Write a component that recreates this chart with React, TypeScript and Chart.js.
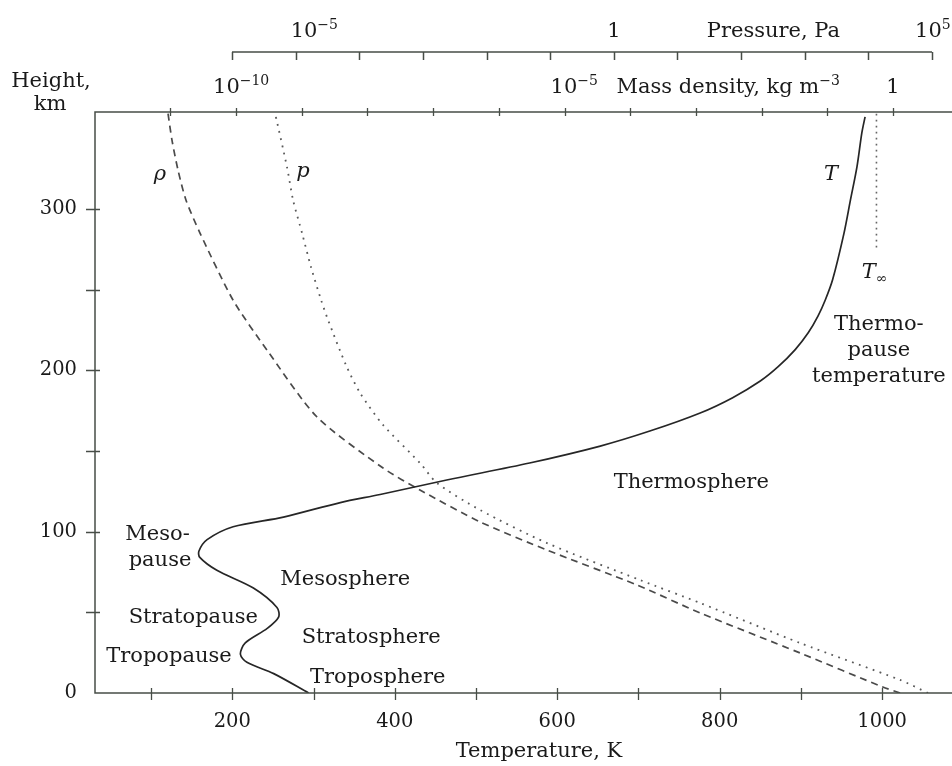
import React, { useEffect, useRef } from 'react';
import { Chart, registerables } from 'chart.js';

Chart.register(...registerables);

// ---------- data ----------
const temperatureK = [294, 251, 218, 210, 216, 243, 257, 255, 226, 181, 160, 159, 169, 201, 263, 333, 382, 464, 566, 653, 714, 776, 816, 850, 872, 893, 909, 921, 930, 939, 953, 961, 969, 975, 979];
const temperatureHeightKm = [0, 12, 19, 24, 31, 40, 47, 53, 65, 76, 84, 88, 95, 103, 109, 118, 123, 132, 142.5, 153, 162.3, 173.5, 183, 193.3, 202.2, 212.8, 223.2, 233.5, 243.5, 256, 284.8, 305.5, 326, 347, 357];

const thermopauseK = [993, 993];
const thermopauseHeightKm = [276, 360];

const densityKgM3 = [1.28, 0.70, 3.85e-2, 1.16e-3, 1.27e-4, 5.4e-6, 5.2e-7, 6.3e-8, 1.73e-8, 1.71e-9, 2.96e-10, 9.0e-11, 2.83e-11, 1.73e-11, 1.31e-11, 1.06e-11, 9.2e-12];
const densityHeightKm = [0, 3.7, 24.8, 49.6, 66.9, 88.6, 106, 125.8, 139.4, 171, 212.5, 243.5, 285, 305.5, 324, 342.6, 359.4];

const pressurePa = [8.65e4, 3.14e4, 841, 22.6, 2.58, 8.9e-2, 7.9e-3, 1.66e-3, 9.0e-4, 2.36e-4, 1.03e-4, 6.18e-5, 3.23e-5, 2.51e-5, 1.74e-5, 1.26e-5, 9.1e-6, 7.31e-6, 4.74e-6];
const pressureHeightKm = [0, 8.1, 31, 55.8, 70, 92.9, 113.4, 130.1, 142.5, 166.1, 185.9, 203.2, 231.1, 243.5, 264, 285, 305.5, 325.9, 359.4];

const tempTickMarks = [100, 200, 300, 400, 500, 600, 700, 800, 900, 1000];
const tempTickLabels = [200, 400, 600, 800, 1000];
const heightTickMarks = [50, 100, 150, 200, 250, 300];
const heightTickLabels = [0, 100, 200, 300];
const densityTickMarks = [1e-11, 1e-10, 1e-9, 1e-8, 1e-7, 1e-6, 1e-5, 1e-4, 1e-3, 1e-2, 1e-1, 1];
const pressureTickMarks = [1e-6, 1e-5, 1e-4, 1e-3, 1e-2, 1e-1, 1, 10, 100, 1e3, 1e4, 1e5];

// axis ranges
const tempMin = 31;
const tempMax = 1086;
const heightMin = 0;
const heightMax = 360;
const densityMin = 7.14e-13;
const densityMax = 7.9;
const pressureMin = 7.03e-9;
const pressureMax = 2.06e5;

// ---------- style ----------
const FAMILY = '"DejaVu Serif", "Liberation Serif", serif';
const BASE = 21;
const SMALL = 14;
const TICK = 19.5;
const INK = '#1a1a1a';
const AXIS = '#474d47';

type Part = { t: string; sup?: boolean; sub?: boolean; italic?: boolean };

function fontFor(p: Part) {
  return `${p.italic ? 'italic ' : ''}${p.sup || p.sub ? SMALL : BASE}px ${FAMILY}`;
}

function measureParts(ctx: CanvasRenderingContext2D, parts: Part[]) {
  return parts.map((p) => {
    ctx.font = fontFor(p);
    return ctx.measureText(p.t).width;
  });
}

function drawParts(ctx: CanvasRenderingContext2D, parts: Part[], x: number, y: number, align: 'left' | 'center' | 'right') {
  const widths = measureParts(ctx, parts);
  const total = widths.reduce((a, b) => a + b, 0);
  let cx = align === 'left' ? x : align === 'right' ? x - total : x - total / 2;
  ctx.textAlign = 'left';
  ctx.textBaseline = 'alphabetic';
  parts.forEach((p, i) => {
    ctx.font = fontFor(p);
    const dy = p.sup ? -8 : p.sub ? 5 : 0;
    ctx.fillText(p.t, cx, y + dy);
    cx += widths[i];
  });
}

const overlayPlugin = {
  id: 'overlay',
  afterDraw(chart: any) {
    const ctx: CanvasRenderingContext2D = chart.ctx;
    const { left, right, top, bottom } = chart.chartArea;
    const xs = chart.scales.x;
    const ys = chart.scales.y;
    const xr = chart.scales.xRho;
    const xp = chart.scales.xP;
    ctx.save();

    // frame
    ctx.strokeStyle = AXIS;
    ctx.lineWidth = 1.5;
    ctx.beginPath();
    ctx.moveTo(right, top);
    ctx.lineTo(left, top);
    ctx.lineTo(left, bottom);
    ctx.lineTo(right, bottom);
    ctx.stroke();

    // tick marks
    ctx.lineWidth = 1.3;
    ctx.beginPath();
    tempTickMarks.forEach((v) => {
      const px = Math.round(xs.getPixelForValue(v)) + 0.5;
      ctx.moveTo(px, bottom - 5);
      ctx.lineTo(px, bottom + 7);
    });
    heightTickMarks.forEach((v) => {
      const py = Math.round(ys.getPixelForValue(v)) + 0.5;
      ctx.moveTo(left - 9, py);
      ctx.lineTo(left + 5, py);
    });
    densityTickMarks.forEach((v) => {
      const px = Math.round(xr.getPixelForValue(v)) + 0.5;
      ctx.moveTo(px, top - 4);
      ctx.lineTo(px, top + 4);
    });
    ctx.stroke();

    // pressure axis
    const pl = xp.getPixelForValue(pressureTickMarks[0]);
    const pr = xp.getPixelForValue(pressureTickMarks[pressureTickMarks.length - 1]);
    const pAxisY = top - 60;
    ctx.lineWidth = 1.5;
    ctx.beginPath();
    ctx.moveTo(pl, pAxisY);
    ctx.lineTo(pr, pAxisY);
    pressureTickMarks.forEach((v) => {
      const px = Math.round(xp.getPixelForValue(v)) + 0.5;
      ctx.moveTo(px, pAxisY);
      ctx.lineTo(px, pAxisY + 8);
    });
    ctx.stroke();

    ctx.fillStyle = INK;
    // pressure labels
    const pBase = top - 75;
    const p5 = xp.getPixelForValue(1e-5);
    drawParts(ctx, [{ t: '10' }, { t: '\u22125', sup: true }], p5 - 5, pBase, 'left');
    drawParts(ctx, [{ t: '1' }], xp.getPixelForValue(1), pBase, 'center');
    drawParts(ctx, [{ t: 'Pressure, Pa' }], xp.getPixelForValue(1) + 93, pBase, 'left');
    drawParts(ctx, [{ t: '10' }, { t: '5', sup: true }], xp.getPixelForValue(1e5) - 17, pBase, 'left');

    // density labels
    const dBase = top - 19;
    drawParts(ctx, [{ t: '10' }, { t: '\u221210', sup: true }], xr.getPixelForValue(1e-10) - 23, dBase, 'left');
    drawParts(ctx, [{ t: '10' }, { t: '\u22125', sup: true }], xr.getPixelForValue(1e-5) - 14, dBase, 'left');
    drawParts(ctx, [{ t: 'Mass density, kg m' }, { t: '\u22123', sup: true }], xr.getPixelForValue(1e-5) + 52, dBase, 'left');
    drawParts(ctx, [{ t: '1' }], xr.getPixelForValue(1), dBase, 'center');

    // axis titles
    drawParts(ctx, [{ t: 'Height,' }], 51, top - 25, 'center');
    drawParts(ctx, [{ t: 'km' }], 50, top - 2, 'center');
    drawParts(ctx, [{ t: 'Temperature, K' }], 539, bottom + 64, 'center');

    // annotations anchored in data coordinates (T in K, height in km)
    const at = (T: number, h: number) => [xs.getPixelForValue(T), ys.getPixelForValue(h)];
    const put = (parts: Part[], T: number, h: number, align: 'left' | 'center' | 'right' = 'center') => {
      const [x, y] = at(T, h);
      drawParts(ctx, parts, x, y, align);
    };
    put([{ t: '\u03c1', italic: true }], 111, 318);
    put([{ t: 'p', italic: true }], 287, 320);
    put([{ t: 'T', italic: true }], 937, 318);
    put([{ t: 'T', italic: true }, { t: '\u221e', sub: true }], 975, 257, 'left');
    put([{ t: 'Thermo-' }], 996, 225);
    put([{ t: 'pause' }], 996, 209);
    put([{ t: 'temperature' }], 996, 193);
    put([{ t: 'Thermosphere' }], 765, 127);
    put([{ t: 'Meso-' }], 108, 95);
    put([{ t: 'pause' }], 111, 79);
    put([{ t: 'Mesosphere' }], 339, 67);
    put([{ t: 'Stratopause' }], 152, 43.4);
    put([{ t: 'Tropopause' }], 122, 19.2);
    put([{ t: 'Stratosphere' }], 371, 31);
    put([{ t: 'Troposphere' }], 379, 6.2);

    ctx.restore();
  },
};

function zipXY(xsArr: number[], ysArr: number[]) {
  return xsArr.map((x, i) => ({ x, y: ysArr[i] }));
}

export default function App() {
  const canvasRef = useRef<HTMLCanvasElement | null>(null);

  useEffect(() => {
    const canvas = canvasRef.current;
    if (!canvas) return;
    const tickFont = { family: FAMILY, size: TICK };
    const chart = new Chart(canvas, {
      type: 'line',
      data: {
        datasets: [
          {
            label: 'T',
            data: zipXY(temperatureK, temperatureHeightKm),
            xAxisID: 'x',
            yAxisID: 'y',
            borderColor: '#262626',
            borderWidth: 1.7,
            tension: 0.3,
            pointRadius: 0,
            fill: false,
          },
          {
            label: 'T∞',
            data: zipXY(thermopauseK, thermopauseHeightKm),
            xAxisID: 'x',
            yAxisID: 'y',
            borderColor: '#666',
            borderWidth: 1.6,
            borderDash: [1.8, 4.2],
            pointRadius: 0,
            fill: false,
          },
          {
            label: 'rho',
            data: zipXY(densityKgM3, densityHeightKm),
            xAxisID: 'xRho',
            yAxisID: 'y',
            borderColor: '#4a4a4a',
            borderWidth: 1.7,
            borderDash: [7, 5],
            tension: 0.25,
            pointRadius: 0,
            fill: false,
          },
          {
            label: 'p',
            data: zipXY(pressurePa, pressureHeightKm),
            xAxisID: 'xP',
            yAxisID: 'y',
            borderColor: '#5a5a5a',
            borderWidth: 1.8,
            borderDash: [1.8, 5.5],
            tension: 0.25,
            pointRadius: 0,
            fill: false,
          },
        ],
      },
      options: {
        animation: false,
        responsive: false,
        maintainAspectRatio: false,
        layout: { padding: { top: 112, right: 0, left: 0, bottom: 0 } },
        plugins: { legend: { display: false }, tooltip: { enabled: false } },
        scales: {
          x: {
            type: 'linear',
            position: 'bottom',
            min: tempMin,
            max: tempMax,
            afterFit: (s: any) => {
              s.height = 73;
            },
            afterBuildTicks: (s: any) => {
              s.ticks = tempTickLabels.map((v) => ({ value: v }));
            },
            grid: { display: false, drawTicks: false },
            border: { display: false },
            ticks: {
              padding: 17,
              font: tickFont,
              color: INK,
              autoSkip: false,
              maxRotation: 0,
              callback: (v: any) => String(v),
            },
          },
          y: {
            type: 'linear',
            position: 'left',
            min: heightMin,
            max: heightMax,
            afterFit: (s: any) => {
              s.width = 95;
            },
            afterBuildTicks: (s: any) => {
              s.ticks = heightTickLabels.map((v) => ({ value: v }));
            },
            grid: { display: false, drawTicks: false },
            border: { display: false },
            ticks: {
              padding: 18,
              font: tickFont,
              color: INK,
              autoSkip: false,
              callback: (v: any) => String(v),
            },
          },
          xRho: {
            type: 'logarithmic',
            display: false,
            bounds: 'data',
            min: densityMin,
            max: densityMax,
          },
          xP: {
            type: 'logarithmic',
            display: false,
            bounds: 'data',
            min: pressureMin,
            max: pressureMax,
          },
        },
      } as any,
      plugins: [overlayPlugin],
    });
    return () => chart.destroy();
  }, []);

  return (
    <div style={{ position: 'absolute', left: 0, top: 0, width: 952, height: 766, background: '#fff' }}>
      <canvas ref={canvasRef} width={952} height={766} style={{ display: 'block' }} />
    </div>
  );
}
